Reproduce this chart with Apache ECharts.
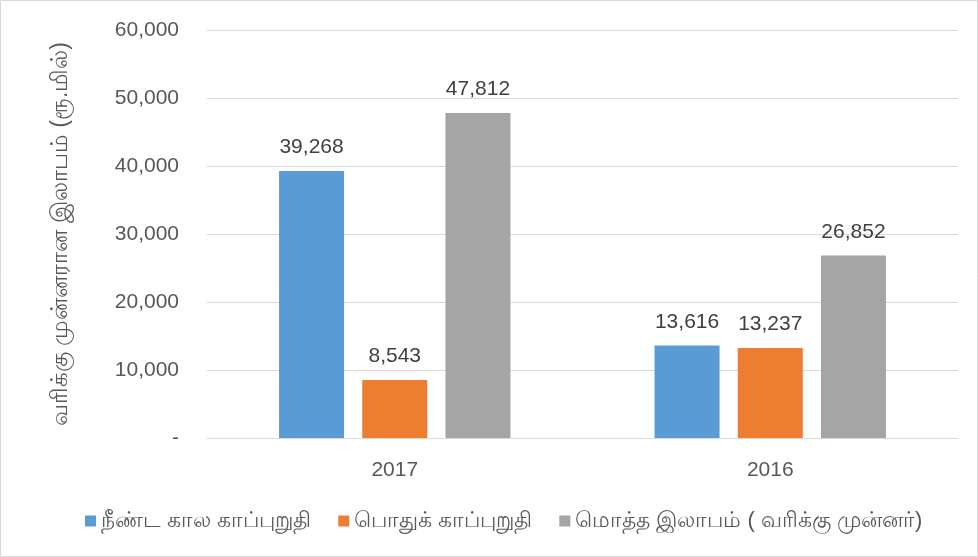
<!DOCTYPE html>
<html><head><meta charset="utf-8">
<script src="https://cdn.jsdelivr.net/npm/echarts@6/dist/echarts.min.js"></script>
<style>html,body{margin:0;padding:0;background:#fff}#c{width:978px;height:557px}</style>
</head><body><div id="c"></div>
<script>
const categories = ['2017', '2016'];
const longTerm = [39268, 13616];
const general = [8543, 13237];
const totalProfit = [47812, 26852];
const seriesNames = ['நீண்ட கால காப்புறுதி', 'பொதுக் காப்புறுதி', 'மொத்த இலாபம் ( வரிக்கு முன்னர்)'];
const yAxisTitle = 'வரிக்கு முன்னரான இலாபம் (ரூ.மில்)';

const FONT = '"Liberation Sans", "Noto Sans", sans-serif';
const chart = echarts.init(document.getElementById('c'), null, {renderer: 'canvas'});
const fmt = v => v.toLocaleString('en-US');
const label = {show: true, position: 'top', distance: 13, fontSize: 21, color: '#404040', fontFamily: FONT, formatter: p => fmt(p.value)};
chart.setOption({
  animation: false,
  graphic: [{type: 'rect', shape: {x: 0.5, y: 0.5, width: 977, height: 556}, style: {fill: 'none', stroke: '#d9d9d9', lineWidth: 1}}],
  grid: {left: 207, right: 20, top: 30, bottom: 119},
  legend: {
    bottom: 20, left: 80, itemWidth: 11, itemHeight: 11, itemGap: 27, icon: 'rect',
    textStyle: {fontSize: 22, color: '#595959', fontFamily: FONT}
  },
  xAxis: {
    type: 'category', data: categories,
    axisLine: {lineStyle: {color: '#d9d9d9'}}, axisTick: {show: false},
    axisLabel: {fontSize: 21, color: '#595959', margin: 22, fontFamily: FONT}
  },
  yAxis: {
    type: 'value', min: 0, max: 60000, interval: 10000,
    name: yAxisTitle, nameLocation: 'middle', nameGap: 135, nameRotate: 90,
    nameTextStyle: {fontSize: 23, color: '#595959', fontFamily: FONT},
    axisLine: {show: false}, axisTick: {show: false},
    splitLine: {lineStyle: {color: '#d9d9d9', width: 1}},
    axisLabel: {fontSize: 21, color: '#595959', margin: 28, fontFamily: FONT, formatter: v => v === 0 ? '-' : fmt(v)}
  },
  series: [
    {name: seriesNames[0], type: 'bar', data: longTerm, barWidth: 65, barGap: '28%', itemStyle: {color: '#5b9bd5'}, label},
    {name: seriesNames[1], type: 'bar', data: general, barWidth: 65, barGap: '28%', itemStyle: {color: '#ed7d31'}, label},
    {name: seriesNames[2], type: 'bar', data: totalProfit, barWidth: 65, barGap: '28%', itemStyle: {color: '#a5a5a5'}, label}
  ]
});
</script></body></html>
